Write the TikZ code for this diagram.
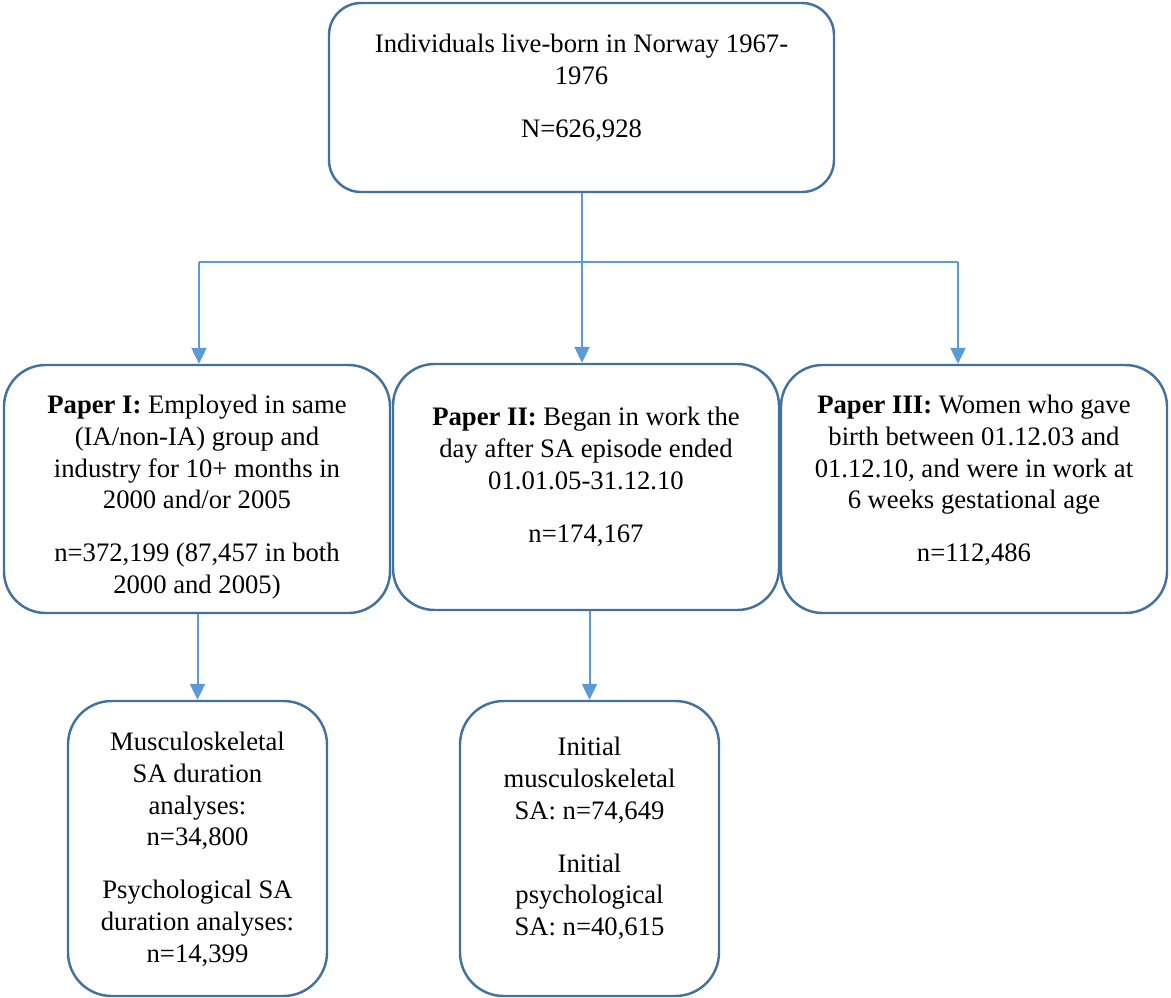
\documentclass[tikz,border=0pt]{standalone}
\usepackage{fontspec}
\setmainfont{Liberation Serif}
\usetikzlibrary{arrows.meta}
\definecolor{boxline}{HTML}{41719C}
\definecolor{linkline}{HTML}{5B9BD5}
\begin{document}
\begin{tikzpicture}[x=0.45pt,y=-0.45pt,
  stage/.style={draw=boxline, line width=1.1pt, fill=white, rectangle,
    rounded corners=#1, inner sep=0pt},
  txt/.style={align=center, inner sep=0pt, anchor=north,
    font=\fontsize{12}{14.2}\selectfont},
  link/.style={draw=linkline, line width=0.9pt},
  flow/.style={link, -{Triangle[width=6.8pt,length=7.2pt]}}]

\useasboundingbox (0,0) rectangle (1171,998);

% boxes
\node[stage=14.4pt, minimum width=227.25pt, minimum height=85.05pt] (top) at (581.5,97.5) {};
\node[stage=18.7pt, minimum width=173.7pt, minimum height=111.6pt] (p1) at (197,489) {};
\node[stage=18.7pt, minimum width=173.7pt, minimum height=110.7pt] (p2) at (586,487) {};
\node[stage=18.7pt, minimum width=173.7pt, minimum height=111.6pt] (p3) at (974,489) {};
\node[stage=19.6pt, minimum width=116.55pt, minimum height=132.75pt] (bl) at (197.5,848.5) {};
\node[stage=19.6pt, minimum width=116.55pt, minimum height=132.75pt] (bm) at (589.5,848.5) {};

% box texts
\node[txt] (topT) at (581.5,34) {Individuals live-born in Norway 1967-\\1976\\[9.8pt]N=626,928};
\node[txt] (p1T) at (197,395) {\textbf{Paper I:} Employed in same\\(IA/non-IA) group and\\industry for 10+ months in\\2000 and/or 2005\\[9.8pt]n=372,199 (87,457 in both\\2000 and 2005)};
\node[txt] (p2T) at (586,407) {\textbf{Paper II:} Began in work the\\day after SA episode ended\\01.01.05-31.12.10\\[9.8pt]n=174,167};
\node[txt] (p3T) at (974,395) {\textbf{Paper III:} Women who gave\\birth between 01.12.03 and\\01.12.10, and were in work at\\6 weeks gestational age\\[9.8pt]n=112,486};
\node[txt] (blT) at (197.5,732) {Musculoskeletal\\SA duration\\analyses:\\n=34,800\\[9.8pt]Psychological SA\\duration analyses:\\n=14,399};
\node[txt] (bmT) at (589.5,737) {Initial\\musculoskeletal\\SA: n=74,649\\[9.8pt]Initial\\psychological\\SA: n=40,615};

% connectors
\coordinate (busL) at (199,262);
\coordinate (busR) at (958,262);
\coordinate (busM) at (582,262);
\draw[link] (top.south -| busM) -- (busM);
\draw[link] (busL) -- (busR);
\draw[flow] (busL) -- (busL |- p1.north);
\draw[flow] (busM) -- (busM |- p2.north);
\draw[flow] (busR) -- (busR |- p3.north);
\draw[flow] (bl.north |- p1.south) -- (bl.north);
\draw[flow] (bm.north |- p2.south) -- (bm.north);
\end{tikzpicture}
\end{document}
